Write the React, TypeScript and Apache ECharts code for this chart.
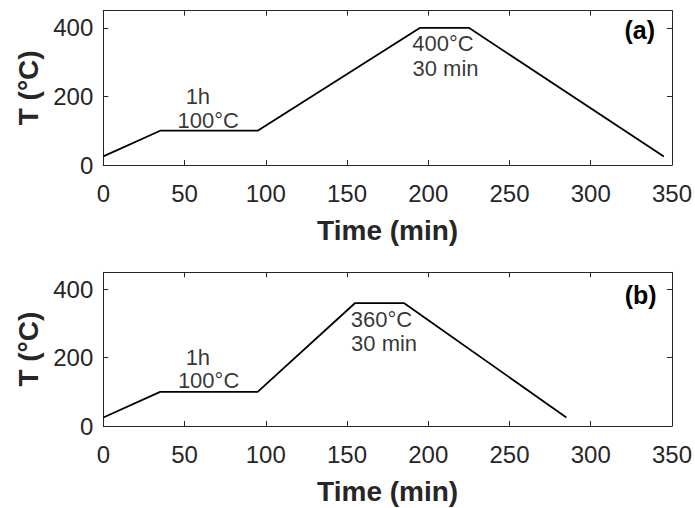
import React, { useEffect, useRef } from "react";
import * as echarts from "echarts";

// Time (min) / temperature (°C) heating profiles
const timeA = [0, 35, 95, 195, 225, 345];
const tempA = [25, 100, 100, 400, 400, 25];
const timeB = [0, 35, 95, 155, 185, 285];
const tempB = [25, 100, 100, 360, 360, 25];

const xTicks = [0, 50, 100, 150, 200, 250, 300, 350];
const yTicks = [0, 200, 400];

// annotations: [text, time, temperature]
const notesA: [string, number, number][] = [
  ["1h", 58.2, 200],
  ["100°C", 64.6, 130],
  ["400°C", 209.1, 353],
  ["30 min", 210.6, 280],
];
const notesB: [string, number, number][] = [
  ["1h", 58.2, 202],
  ["100°C", 64.8, 132],
  ["360°C", 171.2, 311.5],
  ["30 min", 172.8, 241],
];

const panelLabels = ["(a)", "(b)"];
const xName = "Time (min)";
const yName = "T (°C)";

const FONT = "'Liberation Sans', Arial, Helvetica, sans-serif";
const AXC = "#262626";

export default function App() {
  const ref = useRef<HTMLDivElement>(null);
  useEffect(() => {
    if (!ref.current) return;
    const chart = echarts.init(ref.current, undefined, { renderer: "svg" });

    const grids = [
      { left: 103.3, top: 10.7, width: 570, height: 154.3 },
      { left: 103.3, top: 272.3, width: 570, height: 153.7 },
    ];

    const xAxes: any[] = [];
    const yAxes: any[] = [];
    grids.forEach((_, gi) => {
      xAxes.push({
        type: "value",
        gridIndex: gi,
        position: "bottom",
        min: xTicks[0],
        max: xTicks[xTicks.length - 1],
        interval: 50,
        axisLine: { show: true, onZero: false, lineStyle: { color: AXC, width: 1 } },
        axisTick: { show: true, inside: true, length: 5, lineStyle: { color: AXC } },
        axisLabel: { show: true, color: AXC, fontSize: 24, fontFamily: FONT, margin: 16 },
        splitLine: { show: false },
        name: xName,
        nameLocation: "middle",
        nameGap: 51,
        nameTextStyle: { color: AXC, fontSize: 28, fontWeight: "bold", fontFamily: FONT },
      });
      xAxes.push({
        type: "value",
        gridIndex: gi,
        position: "top",
        min: xTicks[0],
        max: xTicks[xTicks.length - 1],
        interval: 50,
        axisLine: { show: true, onZero: false, lineStyle: { color: AXC, width: 1 } },
        axisTick: { show: true, inside: true, length: 5, lineStyle: { color: AXC } },
        axisLabel: { show: false },
        splitLine: { show: false },
      });
      yAxes.push({
        type: "value",
        gridIndex: gi,
        position: "left",
        min: 0,
        max: 450,
        interval: 200,
        axisLine: { show: true, onZero: false, lineStyle: { color: AXC, width: 1 } },
        axisTick: { show: true, inside: true, length: 5, lineStyle: { color: AXC } },
        axisLabel: {
          show: true,
          color: AXC,
          fontSize: 24,
          fontFamily: FONT,
          margin: 10,
          formatter: (v: number) => (yTicks.includes(v) ? String(v) : ""),
        },
        splitLine: { show: false },
        name: yName,
        nameLocation: "middle",
        nameGap: 61,
        nameTextStyle: { color: AXC, fontSize: 28, fontWeight: "bold", fontFamily: FONT },
      });
      yAxes.push({
        type: "value",
        gridIndex: gi,
        position: "right",
        min: 0,
        max: 450,
        interval: 200,
        axisLine: { show: true, onZero: false, lineStyle: { color: AXC, width: 1 } },
        axisTick: { show: true, inside: true, length: 5, lineStyle: { color: AXC } },
        axisLabel: { show: false },
        splitLine: { show: false },
      });
    });

    const lineSeries = (t: number[], v: number[], gi: number) => ({
      type: "line",
      xAxisIndex: gi * 2,
      yAxisIndex: gi * 2,
      data: t.map((x, i) => [x, v[i]]),
      symbol: "none",
      lineStyle: { color: "#000", width: 1.8 },
      silent: true,
    });
    const noteSeries = (notes: [string, number, number][], gi: number) => ({
      type: "scatter",
      xAxisIndex: gi * 2,
      yAxisIndex: gi * 2,
      symbolSize: 0,
      data: notes.map((n) => ({ value: [n[1], n[2]], name: n[0] })),
      label: {
        show: true,
        position: "inside",
        formatter: (p: any) => p.name,
        color: "#000",
        fontSize: 22,
        fontFamily: FONT,
      },
      silent: true,
    });

    chart.setOption({
      animation: false,
      backgroundColor: "#fff",
      grid: grids,
      xAxis: xAxes,
      yAxis: yAxes,
      series: [
        lineSeries(timeA, tempA, 0),
        lineSeries(timeB, tempB, 1),
        noteSeries(notesA, 0),
        noteSeries(notesB, 1),
      ],
      graphic: [
        {
          type: "text",
          right: 695 - 655,
          top: 17,
          style: { text: panelLabels[0], fontSize: 25, fontWeight: "bold", fontFamily: FONT, fill: "#000" },
        },
        {
          type: "text",
          right: 695 - 656.7,
          top: 282,
          style: { text: panelLabels[1], fontSize: 25, fontWeight: "bold", fontFamily: FONT, fill: "#000" },
        },
      ],
    });
    return () => chart.dispose();
  }, []);
  return (
    <div
      ref={ref}
      style={{ position: "fixed", left: 0, top: 0, width: 695, height: 508, background: "#fff" }}
    />
  );
}
